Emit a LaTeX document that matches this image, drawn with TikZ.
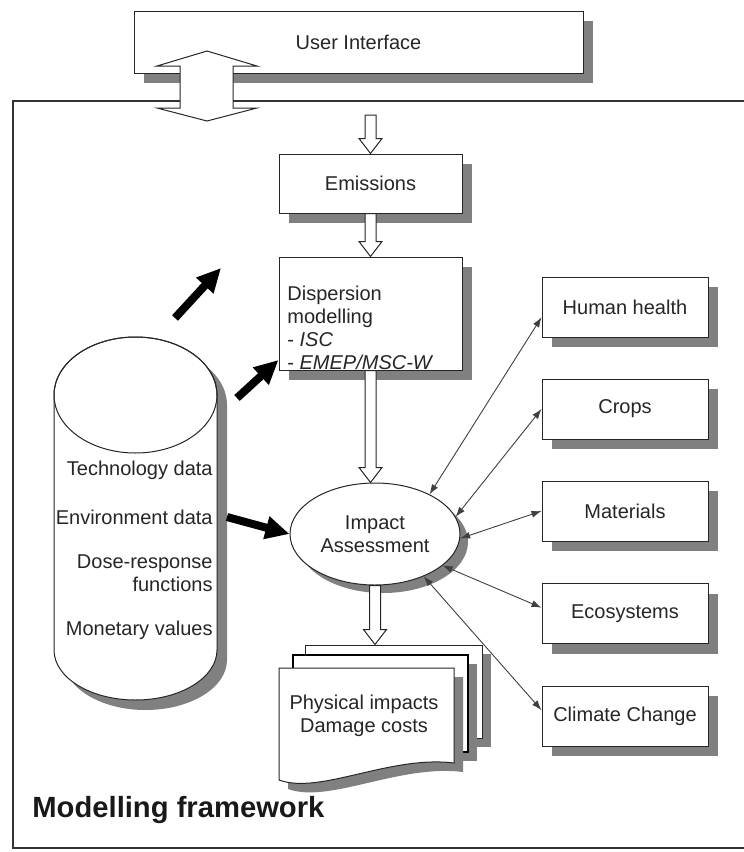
\documentclass[tikz,border=0pt]{standalone}
\usepackage{fontspec}
\setmainfont{Liberation Sans}
\usetikzlibrary{calc,shapes.geometric,shadows,arrows.meta}

\newcommand\hollowarrow[2]{%
  \draw[draw=black!85, fill=white, line width=0.5pt] let \p1=#1, \p2=#2 in
    (\x1-2.75pt,\y1) -- (\x1-2.75pt,\y2+7.5pt) -- (\x1-5.75pt,\y2+7.5pt) -- (\x1,\y2)
    -- (\x1+5.75pt,\y2+7.5pt) -- (\x1+2.75pt,\y2+7.5pt) -- (\x1+2.75pt,\y1) -- cycle;}

\begin{document}
\begin{tikzpicture}[x=0.5pt,y=-0.5pt,
  every node/.style={font=\fontsize{10}{11.5}\selectfont, text=black!85},
  shd/.style={drop shadow={shadow xshift=5pt,shadow yshift=-5pt,fill=black!50,opacity=1}},
  box/.style={draw=black!85, line width=0.5pt, fill=white, shd, inner sep=0pt},
  sideBox/.style={box, minimum width=83pt, minimum height=30pt},
  sheet/.style={draw=black!85, line width=0.5pt, fill=white,
     drop shadow={shadow xshift=4.5pt,shadow yshift=-4.5pt,fill=black!50,opacity=1}},
  bigarrow/.style={line width=4pt, black, -{Triangle[length=12pt,width=11pt]}},
  link/.style={line width=0.45pt, black!75,
     {Latex[length=5pt,width=3.5pt]}-{Latex[length=5pt,width=3.5pt]}}]

\useasboundingbox (0,0) rectangle (744,852);

% outer frame
\draw[line width=0.9pt, black!80] (13,101) rectangle (760,848);
\node[anchor=base west, inner sep=0pt, font=\fontsize{14.6}{16}\selectfont\bfseries, text=black!90]
  (mf) at (32,817) {Modelling framework};

% user interface
\node[box, minimum width=224.5pt, minimum height=31pt] (ui) at (358.5,42) {User Interface};

% double hollow arrow
\draw[draw=black!85, fill=white, line width=0.5pt]
  (207,51) -- (257,66) -- (233,66) -- (233,108) -- (257,108) -- (207,121)
  -- (157,108) -- (180,108) -- (180,66) -- (157,66) -- cycle;

% central column
\node[box, minimum width=91.5pt, minimum height=29.5pt] (em) at (370.5,183.5) {Emissions};
\node[box, minimum width=91.5pt, minimum height=56.5pt] (disp) at (370.5,313.5) {};
\node[anchor=west, align=left, inner sep=0pt] (disptxt) at (287,328)
  {Dispersion\\modelling\\- \textit{ISC}\\- \textit{EMEP/MSC-W}};
\node[draw=black!85, line width=0.5pt, fill=white, ellipse, inner sep=0pt,
  minimum width=85pt, minimum height=51pt,
  drop shadow={shadow xshift=4pt,shadow yshift=-4pt,fill=black!50,opacity=1},
  align=center] (ia) at (375,534) {Impact\\Assessment};

\coordinate (topin) at (370.5,115);
\hollowarrow{(topin)}{(em.north)}
\hollowarrow{(em.south)}{(disp.north)}
\hollowarrow{(disp.south)}{(ia.north)}

% documents
\node[sheet, minimum width=88.5pt, minimum height=46.5pt] (docback) at (393.5,691.5) {};
\node[sheet, line width=1pt, draw=black, minimum width=87.5pt, minimum height=48.5pt] (docmid) at (380.5,703.5) {};
\fill[black!50, shift={(9,9)}] (279,668) -- (454,668) -- (454,763)
  .. controls (390,755) and (320,795) .. (279,780) -- cycle;
\draw[draw=black!85, fill=white, line width=0.5pt] (279,668) -- (454,668) -- (454,763)
  .. controls (390,755) and (320,795) .. (279,780) -- cycle;
\node[align=center] (doc) at (364,715.5) {Physical impacts\\Damage costs};
\hollowarrow{(ia.south)}{(docback.north)}

% database cylinder
\fill[black!50] (64,405) -- (64,660) arc[start angle=180,end angle=0,x radius=81.5,y radius=50]
  -- (227,405) arc[start angle=0,end angle=-180,x radius=81.5,y radius=58] -- cycle;
\draw[draw=black!85, fill=white, line width=0.5pt] (54,395) -- (54,650)
  arc[start angle=180,end angle=0,x radius=81.5,y radius=50]
  -- (217,395) arc[start angle=0,end angle=-180,x radius=81.5,y radius=58] -- cycle;
\draw[line width=0.5pt, black!85] (135.5,395) ellipse[x radius=81.5, y radius=58];
\node[anchor=east, inner sep=0pt] (t1) at (213,470) {Technology data};
\node[anchor=east, inner sep=0pt] (t2) at (213,517) {Environment data};
\node[anchor=east, align=right, inner sep=0pt] (t3) at (213,573.5) {Dose-response\\functions};
\node[anchor=east, inner sep=0pt] (t4) at (213,630) {Monetary values};

% black arrows
\coordinate (cylE) at (227,517);
\coordinate (cylNE) at (237,398);
\coordinate (free1) at (175,318);
\coordinate (free2) at (221,268);
\draw[bigarrow] (cylE) -- (ia.west);
\draw[bigarrow] (cylNE) -- (disp.west |- 0,360);
\draw[bigarrow] (free1) -- (free2);

% impact categories
\node[sideBox] (hh) at (625,307) {Human health};
\node[sideBox] (crops) at (625,409) {Crops};
\node[sideBox] (mat) at (625,511) {Materials};
\node[sideBox] (eco) at (625,613.5) {Ecosystems};
\node[sideBox] (cc) at (625,716) {Climate Change};

\draw[link] (ia.36) -- (hh.187);
\draw[link] (ia.12) -- (crops.west);
\draw[link] (ia.-3) -- (mat.west);
\draw[link] (ia.-25) -- (eco.176);
\draw[link] (ia.-41) -- (cc.176);
\end{tikzpicture}
\end{document}
